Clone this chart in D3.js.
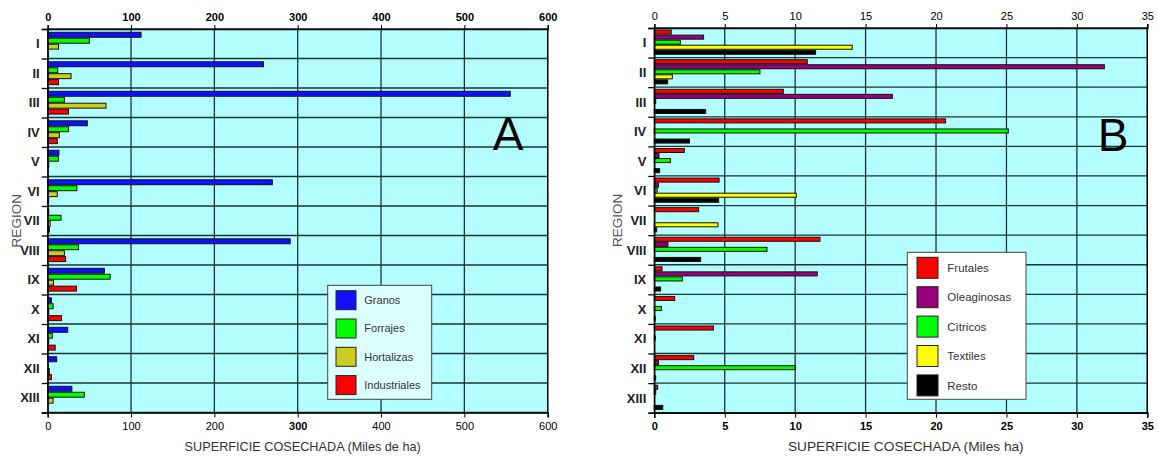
<!DOCTYPE html>
<html><head><meta charset="utf-8">
<script src="https://cdn.jsdelivr.net/npm/d3@7"></script>
<style>body{margin:0;background:#fff}svg{display:block;font-family:"Liberation Sans",Arial,sans-serif}</style>
</head><body>
<svg id="c" width="1159" height="456"></svg>
<script>
const regions = ["I","II","III","IV","V","VI","VII","VIII","IX","X","XI","XII","XIII"];

// Panel A (Miles de ha)
const seriesA = ["Granos","Forrajes","Hortalizas","Industriales"];
const colorsA = ["#1010ff","#00ff00","#cccc22","#ff0000"];
const granos      = [112,259,555,47.5,13.5,269.5,1,291,68,4.5,24,10.8,29];
const forrajes    = [50,12,20,25,12.8,35,16,37,75,6.5,5.5,0,44];
const hortalizas  = [13,28,70,14,1,11.5,3,20,7,0.5,1,2,6.5];
const industriales= [0,13,25,11.5,0,1,2,21.5,34.5,16.5,9,4.5,0];
const ticksA = [0,100,200,300,400,500,600];

// Panel B (Miles ha)
const seriesB = ["Frutales","Oleaginosas","Cìtricos","Textiles","Resto"];
const colorsB = ["#ff0000","#990080","#00ff00","#ffff00","#000000"];
const frutales    = [1.2,10.86,9.16,20.68,2.13,4.6,3.15,11.76,0.55,1.45,4.2,2.8,0.24];
const oleaginosas = [3.5,31.95,16.9,0,0.33,0.3,0,0.97,11.57,0,0,0.3,0.1];
const citricos    = [1.85,7.5,0.1,25.13,1.14,0.2,0,8.0,1.99,0.5,0.05,9.99,0];
const textiles    = [14.05,1.28,0,0,0,10.08,4.52,0,0,0,0,0,0];
const resto       = [11.45,0.95,3.65,2.5,0.38,4.57,0.17,3.29,0.45,0.05,0,0.1,0.6];
const ticksB = [0,5,10,15,20,25,30,35];

const svg = d3.select("#c");

function panel(cfg){
  const g = svg.append("g");
  const x = d3.scaleLinear().domain(cfg.domain).range([cfg.x0, cfg.x1]);
  const y = d3.scaleBand().domain(regions).range([cfg.y0, cfg.y1]);
  const sub = d3.scaleBand().domain(cfg.series).range(cfg.subRange);
  g.append("rect").attr("x",cfg.x0).attr("y",cfg.y0).attr("width",cfg.x1-cfg.x0).attr("height",cfg.y1-cfg.y0).attr("fill","#b3ffff");
  g.selectAll(".gv").data(cfg.ticks).join("line").attr("x1",d=>x(d)).attr("x2",d=>x(d))
    .attr("y1",cfg.y0).attr("y2",cfg.y1).attr("stroke","#1a3333").attr("stroke-width",1.3);
  const edges = d3.range(regions.length+1).map(i=>cfg.y0 + i*y.step());
  g.selectAll(".gh").data(edges).join("line").attr("x1",cfg.x0).attr("x2",cfg.x1)
    .attr("y1",d=>d).attr("y2",d=>d).attr("stroke","#1a3333").attr("stroke-width",1.3);
  cfg.series.forEach((s,si)=>{
    const vals = cfg.values[si];
    g.selectAll(null).data(vals.map((v,i)=>({v,r:regions[i]})).filter(d=>d.v>0)).join("rect")
      .attr("x",x(0)).attr("y",d=>y(d.r)+sub(s)+0.5)
      .attr("width",d=>Math.max(1,x(d.v)-x(0))).attr("height",sub.bandwidth()-1)
      .attr("fill",cfg.colors[si]).attr("stroke","#111").attr("stroke-width",1);
  });
  g.append("line").attr("x1",cfg.x1).attr("x2",cfg.x1).attr("y1",cfg.y0).attr("y2",cfg.y1).attr("stroke","#000").attr("stroke-width",1.3);
  const minorTicks = d3.range(cfg.domain[0], cfg.domain[1]+1e-9, cfg.minor);
  const top = g.append("g").attr("transform",`translate(0,${cfg.y0})`);
  top.call(d3.axisTop(x).tickValues(minorTicks).tickSize(4).tickFormat(""));
  top.call(d3.axisTop(x).tickValues(cfg.ticks).tickSize(4).tickFormat(d3.format("d")));
  top.selectAll("path").attr("stroke","#000").attr("stroke-width",1.5);
  top.selectAll("line").attr("stroke","#000");
  top.selectAll("text").attr("font-size",11).attr("font-weight",cfg.topBold?"bold":"normal")
     .attr("font-family","Liberation Sans, Arial, sans-serif").attr("fill","#000").attr("dy","-0.1em");
  const bot = g.append("g").attr("transform",`translate(0,${cfg.y1})`);
  bot.call(d3.axisBottom(x).tickValues(minorTicks).tickSize(3).tickFormat(""));
  bot.call(d3.axisBottom(x).tickValues(cfg.ticks).tickSize(5).tickFormat(d3.format("d")));
  bot.selectAll("path").attr("stroke","#000").attr("stroke-width",1.5);
  bot.selectAll("line").attr("stroke","#000");
  bot.selectAll("text").attr("font-size",11).attr("font-family","Liberation Sans, Arial, sans-serif").attr("fill","#000")
     .attr("font-weight",d=>cfg.botBold(d)?"bold":"normal").attr("dy","0.85em");
  const yEdge = d3.scaleLinear().domain([0,regions.length]).range([cfg.y0,cfg.y1]);
  const left = g.append("g").attr("transform",`translate(${cfg.x0},0)`);
  left.call(d3.axisLeft(yEdge).tickValues(d3.range(regions.length+1)).tickSize(6).tickFormat(""));
  left.selectAll("path").attr("stroke","#000").attr("stroke-width",1.3);
  left.selectAll("line").attr("stroke","#000").attr("stroke-width",1.3);
  g.selectAll(".rl").data(regions).join("text").attr("x",cfg.x0-8).attr("y",d=>y(d)+y.bandwidth()/2)
    .attr("dy","0.36em").attr("text-anchor","end").attr("font-size",13).attr("font-weight","bold").attr("fill","#222").text(d=>d);
  g.append("text").attr("x",(cfg.x0+cfg.x1)/2+5).attr("y",450.5).attr("text-anchor","middle")
    .attr("font-size",cfg.titleSize).attr("fill","#333").text(cfg.title);
  g.append("text").attr("transform",`translate(${cfg.regionX},${(cfg.y0+cfg.y1)/2}) rotate(-90)`)
    .attr("text-anchor","middle").attr("dy","0.36em").attr("font-size",13.5).attr("fill","#555").text("REGION");
  g.append("text").attr("x",cfg.letter[0]).attr("y",cfg.letter[1]).attr("text-anchor","middle")
    .attr("font-size",46).attr("fill","#000").text(cfg.letter[2]);
  const L = cfg.legend;
  const lg = g.append("g");
  lg.append("rect").attr("x",L.x).attr("y",L.y).attr("width",L.w).attr("height",L.h).attr("fill",L.fill).attr("stroke","#444").attr("stroke-width",1);
  cfg.series.forEach((s,i)=>{
    lg.append("rect").attr("x",L.sx).attr("y",L.sy+i*L.step).attr("width",L.sw).attr("height",L.sh)
      .attr("fill",cfg.colors[i]).attr("stroke","#222").attr("stroke-width",1);
    lg.append("text").attr("x",L.tx).attr("y",L.sy+i*L.step+L.sh/2).attr("dy","0.36em")
      .attr("font-size",L.fs).attr("fill","#333").text(s);
  });
}

panel({
  domain:[0,600], x0:47.7, x1:547.7, y0:29, y1:412.5, series:seriesA, colors:colorsA,
  values:[granos,forrajes,hortalizas,industriales], subRange:[2.8,26.6], ticks:ticksA, minor:20,
  topBold:true, botBold:d=>d===300, title:"SUPERFICIE COSECHADA (Miles de ha)", titleSize:12.7, regionX:16,
  letter:[508,150,"A"],
  legend:{x:327.7,y:285.3,w:104,h:114,fill:"#dcffff",sx:336,sy:290.7,sw:20,sh:19,step:28.3,tx:364.3,fs:11}
});
panel({
  domain:[0,35], x0:654.3, x1:1147.3, y0:28, y1:412.7, series:seriesB, colors:colorsB,
  values:[frutales,oleaginosas,citricos,textiles,resto], subRange:[1.6,26.8], ticks:ticksB, minor:1,
  topBold:false, botBold:d=>true, title:"SUPERFICIE COSECHADA (Miles ha)", titleSize:13.7, regionX:617,
  letter:[1113,150.5,"B"],
  legend:{x:907.3,y:252.3,w:118.7,h:147,fill:"#ffffff",sx:917,sy:257.3,sw:21,sh:21,step:29.4,tx:947.3,fs:11.5}
});
</script>
</body></html>
